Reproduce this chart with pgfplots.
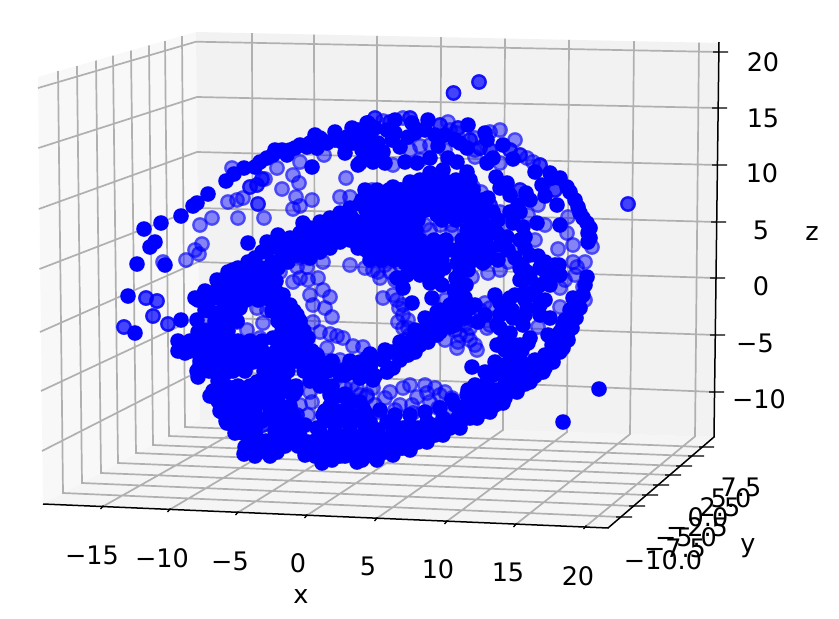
\documentclass[border=0pt]{standalone}
\usepackage{fontspec}
\setmainfont{DejaVu Sans}
\usepackage{pgfplots}
\usepackage{pgfplotstable}
\pgfplotsset{compat=1.18}
\definecolor{gridc}{HTML}{B0B0B0}
\definecolor{paneL}{HTML}{F8F8F8}
\definecolor{paneB}{HTML}{F2F2F2}
\definecolor{paneF}{HTML}{F5F5F5}
% points, in picture coordinates of the projected view
\pgfplotstableread{
346 178
293 175
299 183
282 189
296 197
312 200
293 209
300 206
265 179
238 218
264 218
212 218
200 225
202 244
195 250
199 254
186 260
163 262
277 168
300 162
324 155
232 168
228 202
237 200
243 198
340 197
350 197
330 247
300 257
307 257
323 262
350 265
383 121
403 118
448 122
475 138
457 133
450 130
475 150
420 146
393 165
475 157
500 163
527 158
533 162
538 205
568 217
567 233
573 245
592 247
372 190
481 192
473 187
430 230
452 232
508 262
558 249
573 262
585 262
247 295
257 308
267 310
263 323
247 330
260 338
237 322
208 318
208 330
308 415
312 402
300 405
310 392
345 388
357 388
367 395
280 272
293 282
300 278
308 280
318 278
310 295
323 290
330 297
313 305
325 308
332 317
313 322
320 332
330 334
337 336
343 338
327 348
353 346
363 347
333 363
340 360
297 267
307 267
383 298
397 300
399 308
403 315
398 322
408 328
405 340
457 348
475 345
477 350
487 328
473 320
467 335
450 308
485 303
490 308
373 270
380 278
390 272
472 277
488 273
500 270
560 288
560 307
577 267
583 287
538 327
403 388
435 388
427 393
417 397
400 405
385 398
438 408
413 413
393 422
380 412
367 397
373 388
452 398
523 358
393 295
403 305
408 320
403 328
410 335
445 300
455 330
465 325
480 310
490 325
495 318
470 328
445 340
450 322
460 335
458 342
470 340
365 268
378 272
385 265
395 280
400 265
565 280
575 275
585 300
390 392
410 385
425 385
445 392
430 402
412 405
395 410
375 405
360 395
352 385
450 408
440 395
478 205
500 212
505 225
528 215
515 247
535 240
545 225
430 145
445 150
490 132
410 150
420 160
440 225
425 225
452 225
500 130
515 140
}\pale
\pgfplotstableread{
453.5 93
479 82
628 204
258 204
257 185
250 187
262 179
146 298
157 301
153 316
124 327
168 324
233 388
263 425
297 415
320 250
375 118
390 122
410 118
418 130
440 125
458 128
470 140
480 148
490 150
510 150
520 155
540 165
555 190
490 205
520 190
}\mid
\pgfplotstableread{
312 167
208 194
197 203
193 206
181 216
161 223
144 229
155 242
150 247
137 264
165 265
226 181
234 174
244 168
255 167
260 162
267 158
273 155
282 150
287 155
295 148
307 147
317 148
327 143
335 132
320 138
315 135
342 142
345 153
358 165
352 128
367 123
363 138
353 143
368 123
395 120
412 123
428 120
468 125
485 133
435 135
487 140
503 145
460 143
467 148
438 146
400 147
408 137
387 130
370 135
378 143
367 140
370 152
383 152
385 163
373 162
360 163
405 162
417 163
430 158
448 158
457 162
467 172
487 163
493 158
513 159
535 172
550 173
552 178
542 185
567 187
570 192
578 207
580 213
587 223
588 233
588 242
560 225
557 205
545 196
496 177
500 188
507 183
510 195
526 193
530 200
518 205
523 227
537 223
513 223
525 237
507 237
525 248
538 256
508 250
559 265
488 198
493 212
480 215
470 215
453 187
467 185
443 170
430 173
410 182
393 187
380 197
367 203
440 197
417 200
403 193
390 207
377 217
363 223
407 217
420 213
437 215
457 207
450 200
468 203
467 230
477 230
487 230
497 233
440 243
433 252
443 253
470 243
468 257
488 253
483 263
522 265
383 253
397 247
403 233
390 233
377 237
365 237
405 263
417 260
433 263
457 263
128 296
135 333
181 320
197 320
195 298
203 295
205 302
217 280
223 292
233 285
233 270
247 272
263 275
273 285
283 295
290 305
297 315
300 325
308 338
317 355
323 365
347 368
345 375
353 365
230 302
240 308
220 315
223 328
198 332
207 343
180 345
185 353
198 352
210 353
200 365
198 377
215 372
227 372
227 352
237 345
250 345
263 352
240 362
253 362
280 322
273 338
287 335
297 338
280 362
293 355
307 358
320 362
257 382
270 382
280 380
293 395
315 375
330 395
215 393
220 403
222 412
227 423
237 405
248 402
235 433
243 433
253 415
273 412
275 420
272 402
287 415
305 425
245 447
244 454
260 442
260 450
277 452
282 437
293 437
308 442
305 455
322 463
332 460
320 445
330 438
323 415
333 422
317 428
357 462
363 452
353 438
347 422
367 435
363 408
348 405
472 367
599 389
563 422
468 390
452 400
412 303
403 288
397 278
432 298
460 285
458 305
470 308
427 322
440 320
453 320
423 332
410 345
397 353
383 360
370 368
360 362
393 368
373 380
387 372
408 355
420 345
437 335
450 327
460 315
373 358
367 358
500 303
510 298
525 292
537 287
540 305
527 308
547 275
527 272
560 275
587 277
500 328
510 333
502 345
513 353
528 343
520 345
513 318
523 325
548 335
550 318
577 305
573 298
580 298
568 322
567 335
563 348
553 362
543 372
530 382
517 392
503 403
490 412
477 418
460 428
443 435
427 442
410 450
393 455
377 460
362 460
540 362
527 365
500 365
493 375
487 382
473 398
467 405
460 412
477 408
493 398
510 388
523 378
537 368
550 355
557 342
563 325
507 385
487 398
470 412
453 422
437 428
420 435
403 438
387 442
370 445
443 418
427 422
410 425
393 428
377 432
363 435
370 422
387 422
403 428
420 275
407 275
460 272
437 275
205 310
215 295
222 280
230 272
238 268
248 262
255 258
262 252
270 248
280 243
290 238
300 233
310 228
320 222
330 218
340 213
350 208
360 204
370 200
380 198
392 193
400 190
240 282
250 275
262 268
272 262
282 255
292 250
302 243
312 238
322 232
332 228
342 222
352 218
240 295
255 290
248 243
267 242
278 235
303 223
360 448
380 452
340 448
232 300
245 290
258 283
268 275
278 268
288 262
298 255
308 250
318 243
328 238
338 233
348 228
358 222
368 214
378 210
388 205
398 200
408 195
418 190
365 190
377 190
389 190
401 190
413 190
425 190
437 190
449 190
461 190
473 190
362 200
374 200
386 200
398 200
410 200
422 200
434 200
446 200
458 200
470 200
482 200
366 210
378 210
390 210
402 210
414 210
426 210
438 210
450 210
462 210
474 210
486 210
370 220
382 220
394 220
406 220
418 220
442 220
456 220
470 220
482 220
368 230
380 230
392 230
404 230
416 230
372 240
384 240
396 240
408 240
420 240
434 240
446 240
462 240
474 240
486 240
366 250
378 250
390 250
402 250
414 250
428 250
440 250
452 250
466 250
478 250
490 250
370 260
382 260
394 260
406 260
418 260
430 260
442 260
462 260
474 260
486 260
498 260
420 180
432 180
444 180
456 180
470 180
420 270
432 272
444 268
456 278
468 270
430 283
442 285
454 290
466 285
410 270
455 300
465 298
475 305
485 315
465 318
478 322
450 312
440 310
495 295
505 305
515 295
525 300
535 295
545 300
500 315
512 310
525 315
540 315
520 280
530 278
540 285
550 285
520 268
540 268
555 265
352 372
362 368
372 362
382 358
392 352
402 346
412 340
422 335
432 328
442 322
452 318
462 312
370 354
385 350
400 342
415 330
425 318
437 312
450 305
447 315
360 378
375 376
388 370
400 360
415 352
428 342
440 332
455 325
340 375
330 365
497 325
505 338
515 345
505 350
522 350
530 338
497 345
510 360
520 360
585 285
583 295
580 308
576 318
572 328
568 340
560 352
552 360
545 368
535 376
525 384
515 390
505 398
495 405
485 411
470 418
570 310
565 320
560 332
552 345
545 355
535 360
525 370
515 378
505 380
497 390
485 392
478 398
470 402
467 395
475 385
485 372
495 362
505 372
517 368
530 372
480 405
462 420
450 428
435 435
418 442
402 448
385 452
370 455
365 412
380 410
395 415
410 415
425 412
440 408
455 405
365 425
378 430
392 435
405 435
418 428
432 425
445 425
458 418
370 435
380 440
395 445
410 440
425 435
440 430
360 415
350 430
345 445
335 450
228 272
240 272
252 272
264 272
218 281
230 281
242 281
254 281
266 281
276 281
205 291
216 291
228 291
240 291
252 291
264 291
276 291
198 300
210 300
222 300
234 300
246 300
258 300
270 300
282 300
210 311
222 311
232 311
272 311
284 311
294 311
215 321
227 321
237 321
278 321
290 321
300 321
205 331
216 331
228 331
282 331
294 331
304 331
178 341
190 341
202 341
214 341
226 341
238 341
250 341
262 341
278 341
290 341
302 341
178 351
190 351
202 351
214 351
226 351
238 351
250 351
262 351
276 351
288 351
300 351
312 351
200 361
212 361
224 361
236 361
248 361
260 361
272 361
284 361
296 361
308 361
320 361
332 361
350 361
197 371
209 371
221 371
233 371
245 371
264 371
276 371
288 371
304 371
316 371
328 371
340 371
352 371
218 381
260 381
272 381
284 381
310 381
322 381
213 391
225 391
237 391
262 391
274 391
286 391
296 391
330 391
218 401
230 401
242 401
268 401
278 401
220 411
232 411
244 411
270 411
282 411
325 411
337 411
226 421
238 421
248 421
262 421
274 421
286 421
325 421
337 421
349 421
361 421
236 431
248 431
275 431
285 431
335 431
350 431
266 441
278 441
290 441
315 441
327 441
339 441
360 441
262 451
310 451
322 451
350 451
362 451
275 150
290 150
300 145
310 143
322 140
335 140
347 137
358 130
375 128
362 150
372 145
395 133
415 133
425 130
445 135
455 140
392 140
560 178
575 200
583 218
590 228
590 238
226 386
238 386
250 386
262 386
296 386
320 386
332 386
345 394
210 396
248 396
256 396
338 396
350 400
256 406
290 406
330 406
345 412
360 402
256 416
294 416
355 416
367 416
256 426
296 426
320 432
365 426
256 436
300 436
345 436
250 446
270 446
285 446
298 446
345 456
255 456
270 456
315 456
340 456
310 258
320 252
330 248
340 242
350 240
360 235
358 248
485 225
498 220
510 212
520 212
500 245
515 258
530 255
545 262
520 240
}\front
\tikzset{
  lab/.style={font=\fontsize{25.5}{26}\selectfont,inner sep=0pt,anchor=center},
}
\pgfplotsset{
  ptfill/.style={only marks,mark=*,mark size=7.8pt,
    mark options={fill=blue,draw=blue,draw opacity=0,line width=0pt,fill opacity=#1}},
  ptring/.style={only marks,mark=o,mark size=6.6pt,
    mark options={draw=blue,line width=2.4pt,draw opacity=#1}},
}
\begin{document}
\begin{tikzpicture}
\begin{axis}[
  scale only axis,width=839pt,height=619pt,
  xmin=0,xmax=839,ymin=0,ymax=619,y dir=reverse,
  axis lines=none,clip=false,unbounded coords=jump,
]
% page background, holds the picture's full extent
\addplot[fill=white,draw=none] coordinates {(0,0) (839,0) (839,619) (0,619) (0,0)};
% panes
\addplot[fill=paneL,draw=none] coordinates {(38,77) (196,32) (200,420) (43,504) (38,77)};
\addplot[fill=paneB,draw=none] coordinates {(196,32) (720,43) (714,437) (200,420) (196,32)};
\addplot[fill=paneF,draw=none] coordinates {(43,504) (200,420) (714,437) (608,528) (43,504)};
% grid
\addplot[gridc,line width=1.7pt,line join=miter] coordinates {
 (38,88) (196,41.7) (719,52) (nan,nan)
 (38.4,148) (197,97) (718,108) (nan,nan)
 (38.8,209) (197,152) (718,165) (nan,nan)
 (39.5,269) (198,208) (717,222) (nan,nan)
 (40,332) (198,262) (716,278) (nan,nan)
 (41,391) (199,317) (716,335) (nan,nan)
 (42,451) (199,371) (715,392) (nan,nan)
 (58,71) (63,493) (620,517) (nan,nan)
 (77,66) (82,483) (633,506) (nan,nan)
 (96,60.5) (101,473) (646,495) (nan,nan)
 (113,55.6) (118,463) (657,485) (nan,nan)
 (131,50.5) (136,453) (669,475) (nan,nan)
 (149,45.4) (153,445) (680,466) (nan,nan)
 (165,41) (169,436) (692,456) (nan,nan)
 (182,36) (185,427) (702,447) (nan,nan)
 (252,33.2) (253,421.8) (102,507) (nan,nan)
 (314,34.5) (315,423.8) (169,510) (nan,nan)
 (377,35.8) (377,425.9) (237,513) (nan,nan)
 (441,37.1) (440,427.9) (306,516) (nan,nan)
 (505,38.5) (503,430) (376,519) (nan,nan)
 (569,39.8) (567,432.1) (446,522) (nan,nan)
 (634,41.2) (630,434.2) (515,525) (nan,nan)
 (699,42.6) (695,436.4) (585,527)
};
% axis lines and ticks
\addplot[black,line width=1.5pt,line join=miter] coordinates {(43,504) (608,528) (714,437) (719,42)};
\addplot[black,line width=1.3pt] coordinates {
 (713,52) (728,52) (nan,nan) (712,108) (727,108) (nan,nan)
 (712,165) (727,165) (nan,nan) (711,222) (726,222) (nan,nan)
 (710,278) (725,278) (nan,nan) (710,335) (725,335) (nan,nan)
 (709,392) (724,392) (nan,nan)
 (616,517) (632,517) (nan,nan) (629,506) (645,506) (nan,nan)
 (642,495) (658,495) (nan,nan) (653,485) (669,485) (nan,nan)
 (665,475) (681,475) (nan,nan) (676,466) (692,466) (nan,nan)
 (688,456) (704,456) (nan,nan) (699,447) (714,447) (nan,nan)
 (103.5,505.5) (100.5,509) (nan,nan) (170.5,508.5) (167.5,512) (nan,nan)
 (238.5,511.5) (235.5,515) (nan,nan) (307.5,514.5) (304.5,518) (nan,nan)
 (377.5,517.5) (374.5,521) (nan,nan) (447.5,520.5) (444.5,524) (nan,nan)
 (516.5,523.5) (513.5,527) (nan,nan) (586.5,525.5) (583.5,529)
};
% scatter, far points first
\addplot[ptfill=0.45] table {\pale};
\addplot[ptring=0.45] table {\pale};
\addplot[ptfill=0.72] table {\mid};
\addplot[ptring=0.72] table {\mid};
\addplot[ptfill=1] table {\front};
% tick labels
\node[lab] at (axis cs:92,555) {−15};
\node[lab] at (axis cs:162,558) {−10};
\node[lab] at (axis cs:230,561) {−5};
\node[lab] at (axis cs:298,563) {0};
\node[lab] at (axis cs:368,566) {5};
\node[lab] at (axis cs:438,569) {10};
\node[lab] at (axis cs:508,572) {15};
\node[lab] at (axis cs:578,576) {20};
\node[lab] at (axis cs:663,560) {−10.0};
\node[lab] at (axis cs:675,548) {−7.5};
\node[lab] at (axis cs:686,537) {−5.0};
\node[lab] at (axis cs:697,527) {−2.5};
\node[lab] at (axis cs:708,517) {0.0};
\node[lab] at (axis cs:720,507) {2.5};
\node[lab] at (axis cs:731,498) {5.0};
\node[lab] at (axis cs:741,487) {7.5};
\node[lab] at (axis cs:763,62) {20};
\node[lab] at (axis cs:763,118) {15};
\node[lab] at (axis cs:762,173) {10};
\node[lab] at (axis cs:761,230) {5};
\node[lab] at (axis cs:761,286) {0};
\node[lab] at (axis cs:755,343) {−5};
\node[lab] at (axis cs:759,399) {−10};
\node[lab] at (axis cs:301,597) {x};
\node[lab] at (axis cs:748,548) {y};
\node[lab] at (axis cs:812,234) {z};
\end{axis}
\end{tikzpicture}
\end{document}
